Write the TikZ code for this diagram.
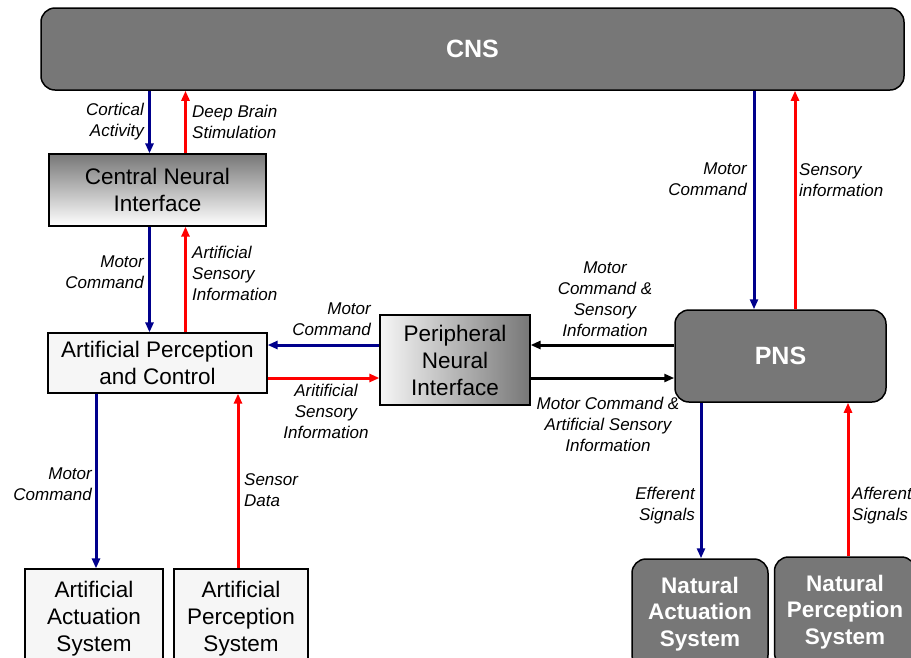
\documentclass[tikz,border=0pt]{standalone}
\usepackage{fontspec}
\setmainfont{Liberation Sans}
\usepackage{tikz}
\usetikzlibrary{arrows.meta, positioning, calc}
\usepackage{xcolor}
\definecolor{nsgray}{RGB}{119,119,119}
\definecolor{nsnavy}{RGB}{0,0,140}
\definecolor{nsred}{RGB}{255,0,0}
\definecolor{nslight}{RGB}{246,246,246}
\tikzset{
    natbox/.style={draw=black, line width=1.5pt, rounded corners=14pt, fill=nsgray, align=center,
                   text=white, font=\fontsize{22.5}{26.5}\selectfont\bfseries, inner sep=2pt},
    bigbox/.style={natbox, font=\fontsize{25}{30}\selectfont\bfseries},
    artbox/.style={draw=black, line width=1.2pt, fill=nslight, align=center,
                   font=\fontsize{22.5}{27}\selectfont, inner sep=2pt},
    cnibox/.style={artbox, fill=none, top color=nsgray, bottom color=white},
    pnibox/.style={artbox, fill=none, left color=nslight, right color=nsgray},
    motor/.style={-{Triangle[length=10pt, width=8pt]}, line width=3pt, nsnavy},
    sense/.style={-{Triangle[length=10pt, width=8pt]}, line width=3pt, nsred},
    mixed/.style={-{Triangle[length=10pt, width=8pt]}, line width=3pt, black},
    lbl/.style={font=\fontsize{17}{21}\selectfont\itshape, inner sep=1pt},
    lbll/.style={lbl, anchor=west, align=left},
    lblr/.style={lbl, anchor=east, align=right},
    lblc/.style={lbl, align=center},
}

\begin{document}
\begin{tikzpicture}[x=1pt, y=-1pt]
    \useasboundingbox (0,0) rectangle (911,657);
    \clip (0,0) rectangle (911,657);
    % systems
    \node[bigbox, minimum width=863pt, minimum height=82pt] (cns) at (472.5,49) {CNS};
    \node[cnibox, minimum width=217pt, minimum height=72pt] (cni) at (157.5,190) {Central Neural\\Interface};
    \node[artbox, minimum width=219pt, minimum height=60pt] (apc) at (157.5,363) {Artificial Perception\\and Control};
    \node[pnibox, minimum width=150pt, minimum height=90pt] (pni) at (455,360) {Peripheral\\Neural\\Interface};
    \node[bigbox, minimum width=211pt, minimum height=92pt] (pns) at (780.5,356) {PNS};
    \node[artbox, minimum width=138pt, minimum height=100pt] (aas) at (94,619) {Artificial\\Actuation\\System};
    \node[artbox, minimum width=134pt, minimum height=100pt] (aps) at (241,619) {Artificial\\Perception\\System};
    \node[natbox, minimum width=136pt, minimum height=110pt] (nas) at (700,614) {Natural\\Actuation\\System};
    \node[natbox, minimum width=141pt, minimum height=110pt] (nps) at (845,612) {Natural\\Perception\\System};

    % CNS <-> central interface
    \draw[motor] ([xshift=-8pt]cni.north |- cns.south) -- ([xshift=-8pt]cni.north);
    \draw[sense] ([xshift=28pt]cni.north) -- ([xshift=28pt]cni.north |- cns.south);
    \node[lblr] (l1) at (145,122) {Cortical\\Activity};
    \node[lbll] (l2) at (191,122) {Deep Brain\\Stimulation};

    % central interface <-> control
    \draw[motor] ([xshift=-8pt]cni.south) -- ([xshift=-8pt]apc.north);
    \draw[sense] ([xshift=28pt]apc.north) -- ([xshift=28pt]cni.south);
    \node[lblr] (l3) at (145,272) {Motor\\Command};
    \node[lbll] (l4) at (191,273) {Artificial\\Sensory\\Information};

    % control <-> peripheral interface
    \draw[motor] ([yshift=15pt]pni.west) -- ([yshift=15pt]pni.west -| apc.east);
    \draw[sense] ([yshift=-15pt]apc.east) -- ([yshift=-15pt]apc.east -| pni.west);
    \node[lblr] (l5) at (372,319) {Motor\\Command};
    \node[lblc] (l6) at (326,411) {Aritificial\\Sensory\\Information};

    % peripheral interface <-> PNS
    \draw[mixed] ([yshift=15pt]pni.east -| pns.west) -- ([yshift=15pt]pni.east);
    \draw[mixed] ([yshift=-18pt]pni.east) -- ([yshift=-18pt]pni.east -| pns.west);
    \node[lblc] (l7) at (605,299) {Motor\\Command \&\\Sensory\\Information};
    \node[lblc] (l8) at (608,424) {Motor Command \&\\Artificial Sensory\\Information};

    % CNS <-> PNS
    \draw[motor] ([xshift=-26.5pt]pns.north |- cns.south) -- ([xshift=-26.5pt]pns.north);
    \draw[sense] ([xshift=14.5pt]pns.north) -- ([xshift=14.5pt]pns.north |- cns.south);
    \node[lblr] (l9) at (748,179) {Motor\\Command};
    \node[lbll] (l10) at (798,180) {Sensory\\information};

    % control <-> artificial systems
    \draw[motor] ([xshift=2pt]aas.north |- apc.south) -- ([xshift=2pt]aas.north);
    \draw[sense] ([xshift=-3pt]aps.north) -- ([xshift=-3pt]aps.north |- apc.south);
    \node[lblr] (l11) at (93,484) {Motor\\Command};
    \node[lbll] (l12) at (243,490) {Sensor\\Data};

    % PNS <-> natural systems
    \draw[motor] ([xshift=1pt]nas.north |- pns.south) -- ([xshift=1pt]nas.north);
    \draw[sense] ([xshift=3pt]nps.north) -- ([xshift=3pt]nps.north |- pns.south);
    \node[lblr] (l13) at (696,506) {Efferent\\Signals};
    \node[lbll] (l14) at (851,506) {Afferent\\Signals};
\end{tikzpicture}
\end{document}
